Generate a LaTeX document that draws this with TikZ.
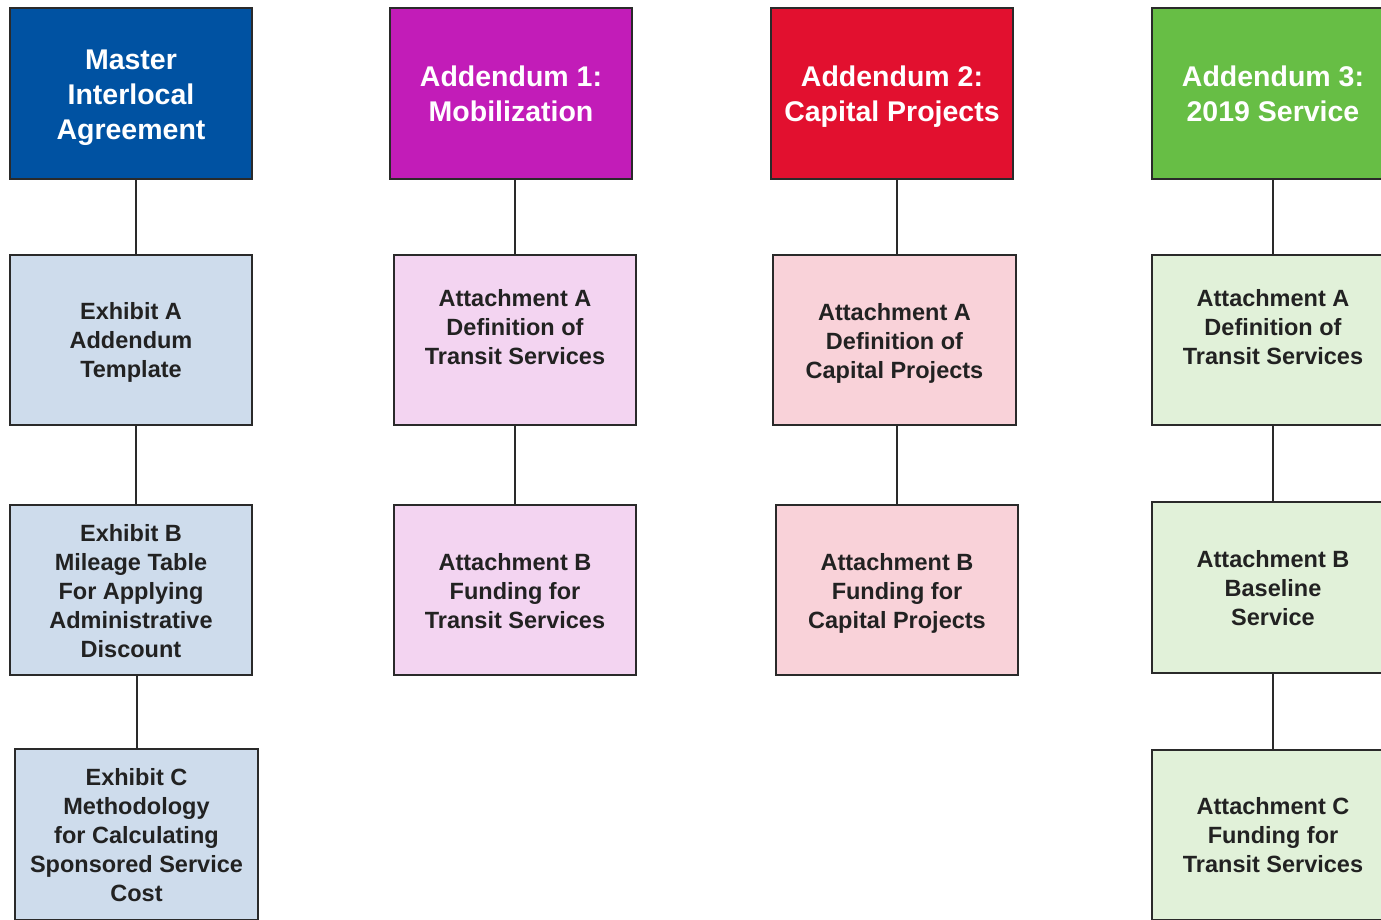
\documentclass[tikz,border=0pt]{standalone}
\usepackage{fontspec}
\setmainfont{Liberation Sans}
\definecolor{cBlue}{HTML}{0052A2}
\definecolor{cMag}{HTML}{C21CB8}
\definecolor{cRed}{HTML}{E2102F}
\definecolor{cGreen}{HTML}{67BE45}
\definecolor{lBlue}{HTML}{CEDCEC}
\definecolor{lMag}{HTML}{F3D4F1}
\definecolor{lRed}{HTML}{F9D2D9}
\definecolor{lGreen}{HTML}{E1F1D9}
\definecolor{edge}{HTML}{2A2A2A}
\definecolor{txt}{HTML}{222222}
\tikzset{
  box/.style={draw=edge, line width=2.5pt, rectangle, inner sep=0pt, outer sep=0pt,
    minimum width=242pt},
  head/.style={box, minimum height=171pt},
  sub/.style={box, minimum height=170pt},
  htxt/.style={align=center, inner sep=0pt, text=white,
    font=\bfseries\fontsize{28.5}{35}\selectfont},
  stxt/.style={align=center, inner sep=0pt, text=txt,
    font=\bfseries\fontsize{23.5}{29}\selectfont},
  conn/.style={draw=edge, line width=2pt}
}
\begin{document}
\begin{tikzpicture}[x=1pt,y=-1pt]
\useasboundingbox (0,0) rectangle (1381,919);
\clip (0,0) rectangle (1381,919);
% column 1
\node[head, fill=cBlue] (master) at (131,93.5) {};
\node[sub, fill=lBlue] (exA) at (131,340) {};
\node[sub, fill=lBlue] (exB) at (131,590) {};
\node[sub, fill=lBlue, minimum width=243pt, minimum height=171pt] (exC) at (136.5,834.5) {};
% column 2
\node[head, fill=cMag] (add1) at (511,93.5) {};
\node[sub, fill=lMag] (c2A) at (515,340) {};
\node[sub, fill=lMag] (c2B) at (515,590) {};
% column 3
\node[head, fill=cRed] (add2) at (892,93.5) {};
\node[sub, fill=lRed, minimum width=243pt] (c3A) at (894.5,340) {};
\node[sub, fill=lRed] (c3B) at (897,590) {};
% column 4
\node[head, fill=cGreen] (add3) at (1273,93.5) {};
\node[sub, fill=lGreen] (c4A) at (1273,340) {};
\node[sub, fill=lGreen, minimum height=171pt] (c4B) at (1273,587.5) {};
\node[sub, fill=lGreen] (c4C) at (1273,835) {};
% texts
\node[htxt] (masterT) at ([yshift=-4pt]master.center) {Master\\Interlocal\\Agreement};
\node[stxt] (exAT) at ([yshift=-2pt]exA.center) {Exhibit A\\Addendum\\Template};
\node[stxt] (exBT) at ([yshift=-1pt]exB.center) {Exhibit B\\Mileage Table\\For Applying\\Administrative\\Discount};
\node[stxt] (exCT) at ([yshift=-1pt]exC.center) {Exhibit C\\Methodology\\for Calculating\\Sponsored Service\\Cost};
\node[htxt] (add1T) at (add1.center) {Addendum 1:\\Mobilization};
\node[stxt] (c2AT) at ([yshift=13pt]c2A.center) {Attachment A\\Definition of\\Transit Services};
\node[stxt] (c2BT) at ([yshift=-1pt]c2B.center) {Attachment B\\Funding for\\Transit Services};
\node[htxt] (add2T) at ([yshift=-3pt]add2.center) {Addendum 2:\\Capital Projects};
\node[stxt] (c3AT) at ([yshift=-3pt]c3A.center) {Attachment A\\Definition of\\Capital Projects};
\node[stxt] (c3BT) at ([yshift=-3pt]c3B.center) {Attachment B\\Funding for\\Capital Projects};
\node[htxt] (add3T) at (add3.center) {Addendum 3:\\2019 Service};
\node[stxt] (c4AT) at ([yshift=13pt]c4A.center) {Attachment A\\Definition of\\Transit Services};
\node[stxt] (c4BT) at ([yshift=-1pt]c4B.center) {Attachment B\\Baseline\\Service};
\node[stxt] (c4CT) at (c4C.center) {Attachment C\\Funding for\\Transit Services};
% connectors
\draw[conn] ([xshift=5pt]master.south) -- ([xshift=5pt]exA.north);
\draw[conn] ([xshift=5pt]exA.south) -- ([xshift=5pt]exB.north);
\draw[conn] (exB.south -| exC.north) -- (exC.north);
\draw[conn] (add1.south -| c2A.north) -- (c2A.north);
\draw[conn] (c2A.south) -- (c2B.north);
\draw[conn] (add2.south -| c3B.north) -- (c3A.north -| c3B.north);
\draw[conn] (c3A.south -| c3B.north) -- (c3B.north);
\draw[conn] (add3.south) -- (c4A.north);
\draw[conn] (c4A.south) -- (c4B.north);
\draw[conn] (c4B.south) -- (c4C.north);
\end{tikzpicture}
\end{document}
